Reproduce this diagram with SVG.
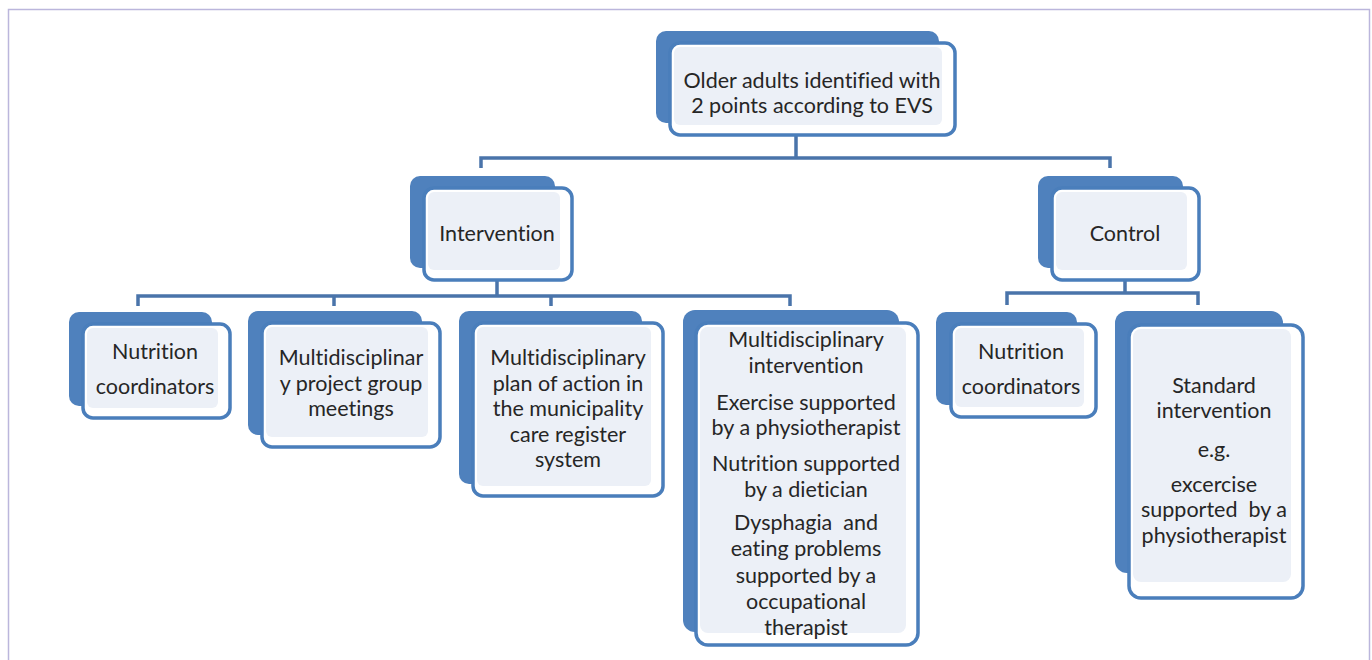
<svg xmlns="http://www.w3.org/2000/svg" width="1372" height="660" viewBox="0 0 1372 660">
<style>
.back{fill:#4f81bd;}
.front{fill:#ffffff;stroke:#4a7ebb;stroke-width:3.5;}
.inner{fill:#ecf0f7;}
.conn{fill:none;stroke:#4a74aa;stroke-width:3.5;stroke-linejoin:miter;}
text{font-family:Lato,"Liberation Sans",sans-serif;font-size:21.5px;fill:#262626;text-anchor:middle;font-variant-ligatures:none;}
</style>
<rect x="0" y="0" width="1372" height="660" fill="#ffffff"/>
<path d="M8.5 670 V9.5 H1369.5 V670" fill="none" stroke="#bbb6dc" stroke-width="1.5"/>
<g id="connectors">
<path class="conn" d="M796 135 V158 M481 168 V158 H1110 V168"/>
<path class="conn" d="M497 280 V296 M138 306 V296 H790 V306 M334 296 V306 M551 296 V306"/>
<path class="conn" d="M1125 280 V293 M1007 305 V293 H1198 V305"/>
</g>
<g id="n-older">
<rect class="back" x="656" y="31" width="283" height="92" rx="10"/>
<rect class="front" x="670" y="43" width="285" height="92" rx="10"/>
<rect class="inner" x="674" y="47" width="268" height="78" rx="6"/>
<text x="812" y="88">Older adults identified with</text>
<text x="812" y="113">2 points according to EVS</text>
</g>
<g id="n-intervention">
<rect class="back" x="410" y="176" width="145" height="92" rx="10"/>
<rect class="front" x="424" y="188" width="148" height="92" rx="10"/>
<rect class="inner" x="428" y="192" width="132" height="78" rx="6"/>
<text x="497" y="241">Intervention</text>
</g>
<g id="n-control">
<rect class="back" x="1038" y="176" width="145" height="92" rx="10"/>
<rect class="front" x="1052" y="188" width="147" height="92" rx="10"/>
<rect class="inner" x="1056" y="192" width="131" height="78" rx="6"/>
<text x="1125" y="241">Control</text>
</g>
<g id="n-nutrition-int">
<rect class="back" x="69" y="312" width="143" height="94" rx="10"/>
<rect class="front" x="83" y="324" width="147" height="94" rx="10"/>
<rect class="inner" x="87" y="328" width="131" height="80" rx="6"/>
<text x="155" y="359">Nutrition</text>
<text x="155" y="394">coordinators</text>
</g>
<g id="n-project">
<rect class="back" x="248" y="311" width="174" height="124" rx="10"/>
<rect class="front" x="262" y="323" width="178" height="124" rx="10"/>
<rect class="inner" x="266" y="327" width="162" height="110" rx="6"/>
<text x="351" y="365">Multidisciplinar</text>
<text x="351" y="391">y project group</text>
<text x="351" y="416">meetings</text>
</g>
<g id="n-plan">
<rect class="back" x="459" y="311" width="183" height="173" rx="10"/>
<rect class="front" x="473" y="323" width="190" height="173" rx="10"/>
<rect class="inner" x="477" y="327" width="174" height="159" rx="6"/>
<text x="568" y="365">Multidisciplinary</text>
<text x="568" y="391">plan of action in</text>
<text x="568" y="416">the municipality</text>
<text x="568" y="442">care register</text>
<text x="568" y="467">system</text>
</g>
<g id="n-multi">
<rect class="back" x="683" y="310" width="216" height="322" rx="12"/>
<rect class="front" x="696" y="323" width="222" height="322" rx="12"/>
<rect class="inner" x="700" y="327" width="206" height="306" rx="8"/>
<text x="806" y="347">Multidisciplinary</text>
<text x="806" y="373">intervention</text>
<text x="806" y="410">Exercise supported</text>
<text x="806" y="435">by a physiotherapist</text>
<text x="806" y="471">Nutrition supported</text>
<text x="806" y="497">by a dietician</text>
<text x="806" y="530" xml:space="preserve">Dysphagia  and</text>
<text x="806" y="556">eating problems</text>
<text x="806" y="583">supported by a</text>
<text x="806" y="609">occupational</text>
<text x="806" y="635">therapist</text>
</g>
<g id="n-nutrition-ctl">
<rect class="back" x="936" y="312" width="141" height="93" rx="10"/>
<rect class="front" x="951" y="324" width="145" height="93" rx="10"/>
<rect class="inner" x="955" y="328" width="129" height="79" rx="6"/>
<text x="1021" y="359">Nutrition</text>
<text x="1021" y="394">coordinators</text>
</g>
<g id="n-standard">
<rect class="back" x="1115" y="311" width="168" height="262" rx="12"/>
<rect class="front" x="1129" y="325" width="174" height="273" rx="12"/>
<rect class="inner" x="1133" y="329" width="158" height="253" rx="8"/>
<text x="1214" y="393">Standard</text>
<text x="1214" y="418">intervention</text>
<text x="1214" y="457">e.g.</text>
<text x="1214" y="492">excercise</text>
<text x="1214" y="517" xml:space="preserve">supported  by a</text>
<text x="1214" y="543">physiotherapist</text>
</g>
</svg>
